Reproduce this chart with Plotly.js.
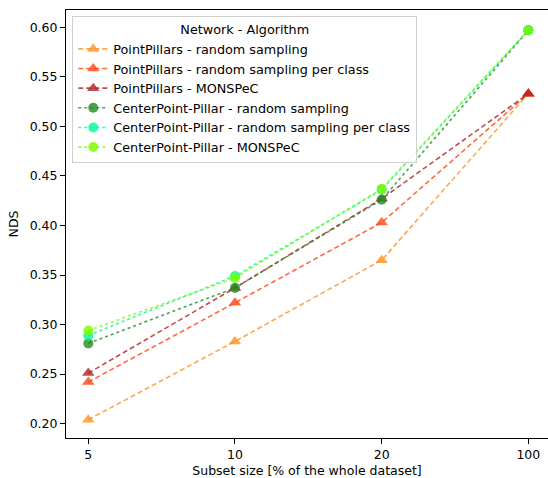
<!DOCTYPE html>
<html>
<head>
<meta charset="utf-8">
<script src="https://cdn.plot.ly/plotly-3.0.1.min.js"></script>
<style>html,body{margin:0;padding:0;background:#fff;}#chart{width:548px;height:478px;}</style>
</head>
<body>
<div id="chart"></div>
<script>
const subsetSizes = ['5', '10', '20', '100'];
const seriesNames = [
  'PointPillars - random sampling',
  'PointPillars - random sampling per class',
  'PointPillars - MONSPeC',
  'CenterPoint-Pillar - random sampling',
  'CenterPoint-Pillar - random sampling per class',
  'CenterPoint-Pillar - MONSPeC'
];
const ppRandom = [0.204, 0.283, 0.365, 0.533];
const ppRandomPerClass = [0.242, 0.322, 0.403, 0.533];
const ppMonspec = [0.251, 0.337, 0.427, 0.533];
const cpRandom = [0.281, 0.337, 0.426, 0.597];
const cpRandomPerClass = [0.289, 0.349, 0.436, 0.597];
const cpMonspec = [0.294, 0.347, 0.437, 0.597];
const seriesValues = [ppRandom, ppRandomPerClass, ppMonspec, cpRandom, cpRandomPerClass, cpMonspec];

const colors = [
  'rgba(255,145,30,0.8)',
  'rgba(255,69,20,0.8)',
  'rgba(178,34,34,0.8)',
  'rgba(34,139,34,0.8)',
  'rgba(0,250,154,0.8)',
  'rgba(124,252,0,0.8)'
];
const symbols = ['triangle-up', 'triangle-up', 'triangle-up', 'circle', 'circle', 'circle'];
const dashes = ['5px,3px', '5px,3px', '5px,3px', 'dot', 'dot', 'dot'];

const traces = seriesNames.map((name, i) => ({
  type: 'scatter',
  mode: 'lines+markers',
  name: name,
  x: subsetSizes,
  y: seriesValues[i],
  line: {color: colors[i], width: 1.6, dash: dashes[i]},
  marker: {color: colors[i], symbol: symbols[i], size: i < 3 ? 11 : 10, line: {width: 0}}
}));

const font = {family: 'DejaVu Sans, sans-serif', size: 12.5, color: '#000'};
const legendFont = {family: 'DejaVu Sans, sans-serif', size: 12.8, color: '#000'};
const layout = {
  width: 548, height: 478,
  margin: {l: 66, r: 0, t: 10, b: 40},
  paper_bgcolor: '#fff', plot_bgcolor: '#fff',
  font: font,
  showlegend: true,
  legend: {
    x: 0.013, y: 0.985, xanchor: 'left', yanchor: 'top',
    bgcolor: 'rgba(255,255,255,0.85)', bordercolor: '#d0d0d0', borderwidth: 1,
    font: legendFont,
    title: {text: 'Network - Algorithm', side: 'top center', font: legendFont},
    tracegroupgap: 0
  },
  xaxis: {
    type: 'category',
    range: [-0.152, 3.134],
    showgrid: false, zeroline: false,
    showline: true, linecolor: '#000', linewidth: 1, mirror: true,
    ticks: 'outside', ticklen: 5, tickcolor: '#000',
    tickfont: font,
    title: {text: 'Subset size [% of the whole dataset]', font: font, standoff: 9}
  },
  yaxis: {
    range: [0.1855, 0.6175],
    tickvals: [0.20, 0.25, 0.30, 0.35, 0.40, 0.45, 0.50, 0.55, 0.60],
    ticktext: ['0.20', '0.25', '0.30', '0.35', '0.40', '0.45', '0.50', '0.55', '0.60'],
    showgrid: false, zeroline: false,
    showline: true, linecolor: '#000', linewidth: 1,
    ticks: 'outside', ticklen: 5, tickcolor: '#000',
    tickfont: font,
    title: {text: 'NDS', font: font, standoff: 8}
  }
};

Plotly.newPlot('chart', traces, layout, {displayModeBar: false, staticPlot: true});
</script>
</body>
</html>
